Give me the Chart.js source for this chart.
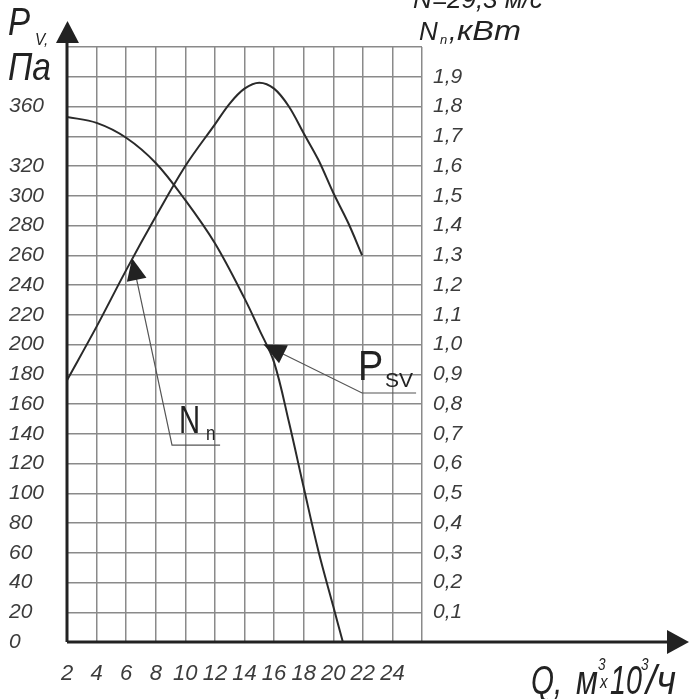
<!DOCTYPE html>
<html>
<head>
<meta charset="utf-8">
<script src="https://cdn.jsdelivr.net/npm/chart.js@4.4.1/dist/chart.umd.min.js"></script>
<style>
  html, body { margin: 0; padding: 0; background: #fff; }
  canvas { display: block; }
</style>
</head>
<body>
<canvas id="fanChart" width="689" height="699"></canvas>
<script>
// Q, м³×10³/ч
const xTicks = [2, 4, 6, 8, 10, 12, 14, 16, 18, 20, 22, 24, 26];

// static pressure curve P_sv, Па (left axis)
const psvQ = [2, 4, 6, 8, 10, 12, 14, 15, 16, 17, 18, 19, 20, 20.65];
const psvPa = [353, 349, 339, 322, 297, 268, 231, 210, 188, 148, 104, 61, 24, 0];

// power curve N_n, кВт (right axis)
const nnQ = [2, 4, 6, 8, 10, 12, 13, 14, 15, 16, 17, 18, 19, 20, 21, 21.95];
const nnKw = [0.88, 1.06, 1.25, 1.43, 1.60, 1.74, 1.81, 1.86, 1.88, 1.86, 1.80, 1.71, 1.62, 1.51, 1.41, 1.30];

// left axis labels that are printed (340 is missing on the original)
const paLabels = [0, 20, 40, 60, 80, 100, 120, 140, 160, 180, 200, 220, 240, 260, 280, 300, 320, 360];

// leader lines for curve names: [tip, elbow, end] in (Q, кВт)
const nnLeader = [[6.4, 1.29], [9.1, 0.662], [12.35, 0.662]];
const psvLeader = [[15.3, 1.0], [21.95, 0.837], [25.6, 0.837]];

const FONT = "'Liberation Sans', Arial, sans-serif";
const INK = '#222';

const toPts = (xs, ys) => xs.map((q, i) => ({ x: q, y: ys[i] }));

function arrowHead(ctx, x1, y1, x2, y2, len, half) {
    // filled triangle with its point at (x2, y2)
    const a = Math.atan2(y2 - y1, x2 - x1);
    ctx.beginPath();
    ctx.moveTo(x2, y2);
    ctx.lineTo(x2 - len * Math.cos(a) + half * Math.sin(a), y2 - len * Math.sin(a) - half * Math.cos(a));
    ctx.lineTo(x2 - len * Math.cos(a) - half * Math.sin(a), y2 - len * Math.sin(a) + half * Math.cos(a));
    ctx.closePath();
    ctx.fill();
}

// text with a horizontal squeeze, the original uses a narrow typeface
function txt(ctx, str, x, y, size, italic, sx = 1) {
    ctx.save();
    ctx.font = `${italic ? 'italic ' : ''}${size}px ${FONT}`;
    ctx.translate(x, y);
    ctx.scale(sx, 1);
    ctx.fillText(str, 0, 0);
    ctx.restore();
}

const decorPlugin = {
    id: 'decor',
    afterDraw(chart) {
        const { ctx, chartArea: a, scales } = chart;
        const sx = scales.x, sy = scales.yPower;
        ctx.save();

        // main axes with arrows
        ctx.strokeStyle = INK;
        ctx.fillStyle = INK;
        ctx.lineWidth = 3;
        ctx.beginPath();
        ctx.moveTo(a.left, a.bottom);
        ctx.lineTo(670, a.bottom);
        ctx.moveTo(a.left, a.bottom);
        ctx.lineTo(a.left, 42);
        ctx.stroke();
        arrowHead(ctx, a.left, a.bottom, 689, a.bottom, 22, 12);
        arrowHead(ctx, a.left, a.bottom, a.left + 0.5, 21, 22, 11.5);

        // leader lines
        const leader = (pts) => {
            const p = pts.map(([q, v]) => [sx.getPixelForValue(q), sy.getPixelForValue(v)]);
            ctx.strokeStyle = '#555';
            ctx.lineWidth = 1.2;
            ctx.beginPath();
            ctx.moveTo(p[0][0], p[0][1]);
            ctx.lineTo(p[1][0], p[1][1]);
            ctx.lineTo(p[2][0], p[2][1]);
            ctx.stroke();
            ctx.fillStyle = INK;
            arrowHead(ctx, p[1][0], p[1][1], p[0][0], p[0][1], 22, 10);
            return p;
        };
        const pn = leader(nnLeader);
        const pp = leader(psvLeader);

        ctx.fillStyle = INK;
        ctx.textBaseline = 'alphabetic';
        ctx.textAlign = 'left';

        // curve names
        txt(ctx, 'N', pn[1][0] + 7, pn[1][1] - 12, 39, false, 0.75);
        txt(ctx, 'n', pn[1][0] + 34, pn[1][1] - 5, 20, false, 0.85);
        txt(ctx, 'P', pp[1][0] - 4, pp[1][1] - 13, 42, false, 0.9);
        txt(ctx, 'SV', pp[1][0] + 23, pp[1][1] - 6, 21, false, 1);

        // left axis title
        txt(ctx, 'P', 8, 35, 39, true, 0.85);
        txt(ctx, 'V,', 35, 45, 17, true, 0.9);
        txt(ctx, 'Па', 8, 80, 39, true, 0.86);

        // right axis title
        txt(ctx, 'N=29,3 м/с', 413, 8, 26, true, 1);
        txt(ctx, 'N', 419, 40, 26, true, 1);
        txt(ctx, 'n', 440, 44, 13, true, 1);
        txt(ctx, ',', 449, 40, 27, true, 1);
        txt(ctx, 'кВт', 457, 40, 27, true, 1.2);

        // x axis title
        txt(ctx, 'Q,', 531, 694, 41, true, 0.72);
        txt(ctx, 'м', 576, 694, 41, true, 0.78);
        txt(ctx, '3', 598, 670, 17, true, 0.8);
        txt(ctx, 'x', 600, 688, 19, true, 0.8);
        txt(ctx, '10', 610, 694, 41, true, 0.7);
        txt(ctx, '3', 641, 670, 17, true, 0.8);
        txt(ctx, '/ч', 646, 694, 41, true, 0.92);

        ctx.restore();
    }
};

const tickColor = '#3c3c3c';

new Chart(document.getElementById('fanChart'), {
    type: 'line',
    data: {
        datasets: [
            {
                label: 'Psv',
                data: toPts(psvQ, psvPa),
                yAxisID: 'yPa',
                borderColor: '#2a2a2a',
                borderWidth: 2,
                pointRadius: 0,
                tension: 0.35,
                fill: false
            },
            {
                label: 'Nn',
                data: toPts(nnQ, nnKw),
                yAxisID: 'yPower',
                borderColor: '#2a2a2a',
                borderWidth: 2,
                pointRadius: 0,
                tension: 0.35,
                fill: false
            }
        ]
    },
    options: {
        responsive: false,
        animation: false,
        layout: { padding: { left: 9, top: 47, right: 0, bottom: 0 } },
        plugins: {
            legend: { display: false },
            tooltip: { enabled: false }
        },
        scales: {
            x: {
                type: 'linear',
                min: 2,
                max: 26,
                afterBuildTicks: (s) => { s.ticks = xTicks.map(v => ({ value: v })); },
                afterFit: (s) => { s.height = 57; },
                border: { display: false },
                grid: { color: '#8a8a8a', lineWidth: 1.5, drawTicks: false },
                ticks: {
                    font: { family: FONT, style: 'italic', size: 22 },
                    color: tickColor,
                    padding: 19,
                    maxRotation: 0,
                    autoSkip: false,
                    callback: (v) => (v === 26 ? '' : String(v))
                }
            },
            yPa: {
                position: 'left',
                min: 0,
                max: 400,
                afterBuildTicks: (s) => { s.ticks = paLabels.map(v => ({ value: v })); },
                afterFit: (s) => { s.width = 58; },
                border: { display: false },
                grid: { display: false },
                ticks: {
                    font: { family: FONT, style: 'italic', size: 21 },
                    color: tickColor,
                    crossAlign: 'far',
                    autoSkip: false
                }
            },
            yPower: {
                position: 'right',
                min: 0,
                max: 2,
                afterBuildTicks: (s) => {
                    s.ticks = Array.from({ length: 21 }, (_, i) => ({ value: i / 10 }));
                },
                afterFit: (s) => { s.width = 267; },
                border: { display: false },
                grid: { color: '#8a8a8a', lineWidth: 1.5, drawTicks: false },
                ticks: {
                    font: { family: FONT, style: 'italic', size: 21 },
                    color: tickColor,
                    padding: 11,
                    autoSkip: false,
                    callback: (v) => (v <= 0.001 || v >= 1.999 ? '' : v.toFixed(1).replace('.', ','))
                }
            }
        }
    },
    plugins: [decorPlugin]
});
</script>
</body>
</html>
